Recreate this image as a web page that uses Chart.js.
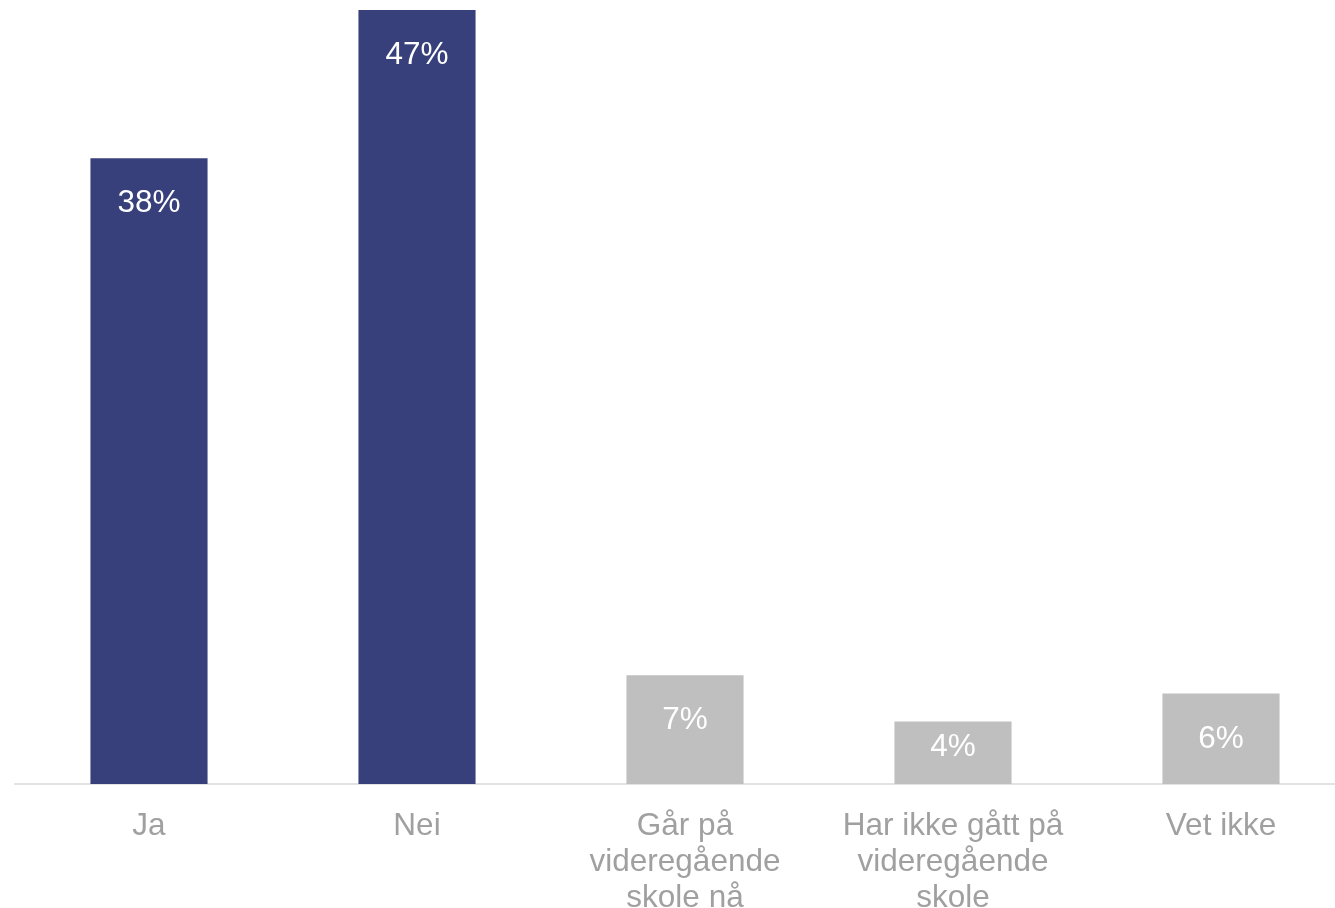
<!DOCTYPE html>
<html>
<head>
<meta charset="utf-8">
<script src="https://cdn.jsdelivr.net/npm/chart.js@4"></script>
<style>
  html, body { margin: 0; padding: 0; overflow: hidden; background: #fff; }
  #wrap { width: 1370px; height: 908px; }
</style>
</head>
<body>
<div id="wrap"><canvas id="chart" width="1370" height="908"></canvas></div>
<script>
// Categories (multi-line labels as in the source)
const categories = [
  'Ja',
  'Nei',
  ['Går på', 'videregående', 'skole nå'],
  ['Har ikke gått på', 'videregående', 'skole'],
  'Vet ikke'
];
// Share of respondents, percent
const values = [38.0, 47.0, 6.6, 3.8, 5.5];
const barColors = ['#37407A', '#37407A', '#BFBFBF', '#BFBFBF', '#BFBFBF'];

// Value labels drawn in white just inside the top of each bar
const valueLabels = {
  id: 'valueLabels',
  afterDatasetsDraw(chart) {
    const ctx = chart.ctx;
    const meta = chart.getDatasetMeta(0);
    const base = chart.scales.y.getPixelForValue(0);
    ctx.save();
    ctx.fillStyle = '#ffffff';
    ctx.font = '31.5px "Liberation Sans", Arial, sans-serif';
    ctx.textAlign = 'center';
    ctx.textBaseline = 'middle';
    meta.data.forEach((bar, i) => {
      const y = Math.min(bar.y + 45.5, base - 37);
      ctx.fillText(Math.round(values[i]) + '%', bar.x, y);
    });
    ctx.restore();
  }
};

new Chart(document.getElementById('chart'), {
  type: 'bar',
  data: {
    labels: categories,
    datasets: [{
      data: values,
      backgroundColor: barColors,
      borderWidth: 0,
      barPercentage: 1,
      categoryPercentage: 0.437
    }]
  },
  options: {
    responsive: false,
    animation: false,
    devicePixelRatio: 1,
    layout: { padding: { left: 15, right: 15, top: 10, bottom: 0 } },
    plugins: {
      legend: { display: false },
      tooltip: { enabled: false }
    },
    scales: {
      x: {
        grid: { display: false, drawTicks: false },
        border: { display: true, color: '#E3E3E3', width: 2 },
        ticks: {
          color: '#A0A0A0',
          padding: 24,
          maxRotation: 0,
          autoSkip: false,
          font: { family: '"Liberation Sans", Arial, sans-serif', size: 31.5, lineHeight: '36px' }
        },
        afterFit(scale) { scale.height = 124; }
      },
      y: {
        display: false,
        min: 0,
        max: 47
      }
    }
  },
  plugins: [valueLabels]
});
</script>
</body>
</html>
